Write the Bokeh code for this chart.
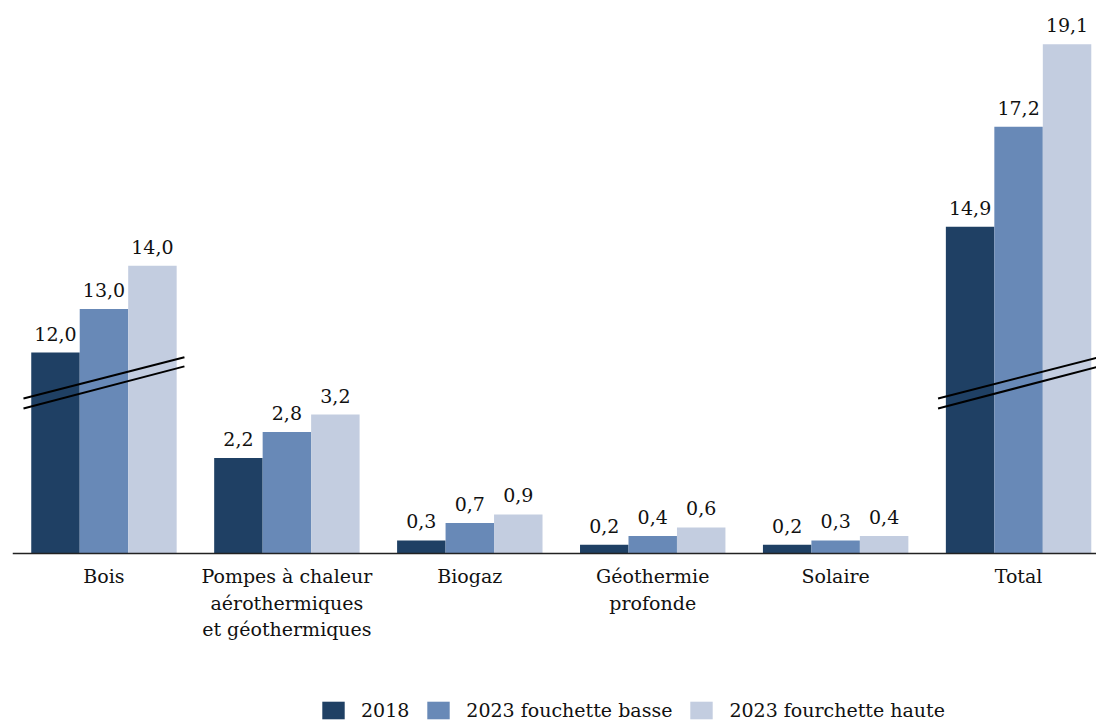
from bokeh.plotting import figure
from bokeh.models import ColumnDataSource, Range1d, Legend, LegendItem, Span
from bokeh.core.properties import value
from bokeh.embed import file_html
from bokeh.resources import INLINE

# ---- data ----
categories = ["Bois", "Pompes à chaleur\naérothermiques\net géothermiques", "Biogaz",
              "Géothermie\nprofonde", "Solaire", "Total"]
series_names = ["2018", "2023 fouchette basse", "2023 fourchette haute"]
v2018 = [12.0, 2.2, 0.3, 0.2, 0.2, 14.9]
v2023_low = [13.0, 2.8, 0.7, 0.4, 0.3, 17.2]
v2023_high = [14.0, 3.2, 0.9, 0.6, 0.4, 19.1]
broken = [True, False, False, False, False, True]   # categories drawn with a broken axis
break_offset = 7.37                                   # amount removed by the axis break

colors = ["#1F4064", "#6889B7", "#C3CDE0"]
FONT = "DejaVu Serif"

p = figure(width=1096, height=721, output_backend="svg", toolbar_location=None,
           x_range=Range1d(-0.5, 5.426), y_range=Range1d(-3.871, 12.74),
           min_border_left=12, min_border_right=0, min_border_top=0, min_border_bottom=0)
p.outline_line_color = None
p.grid.visible = False
p.xaxis.visible = False
p.yaxis.visible = False
p.background_fill_color = "white"

bar_w = 0.265
offsets = [-bar_w, 0.0, bar_w]
renderers = []
for s, (vals, col, off) in enumerate(zip([v2018, v2023_low, v2023_high], colors, offsets)):
    xs = [i + off for i in range(len(categories))]
    tops = [v - break_offset if b else v for v, b in zip(vals, broken)]
    labels = [f"{v:.1f}".replace(".", ",") for v in vals]
    src = ColumnDataSource(dict(x=xs, top=tops, lab=labels))
    r = p.vbar(x="x", top="top", width=bar_w, bottom=0, source=src,
               fill_color=col, line_color=None)
    renderers.append(r)
    p.text(x="x", y="top", text="lab", source=src, text_align="center",
           text_baseline="bottom", y_offset=-12,
           text_font=value(FONT), text_font_size="19px", text_color="#111111")

# break marks (two parallel diagonal lines) on broken categories
bx, by = [], []
for i, b in enumerate(broken):
    if b:
        bx += [[i - 0.44, i + 0.44], [i - 0.44, i + 0.44]]
        by += [[3.57, 4.52], [3.34, 4.31]]
p.multi_line(xs=bx, ys=by, line_color="#000000", line_width=2)

# baseline (category axis)
p.add_layout(Span(location=0, dimension="width", line_color="#222222", line_width=1.5))

# category labels
cat_src = ColumnDataSource(dict(x=list(range(len(categories))), y=[0] * len(categories),
                                lab=categories))
p.text(x="x", y="y", text="lab", source=cat_src, text_align="center", text_baseline="top",
       y_offset=12, text_font=value(FONT), text_font_size="19px", text_color="#111111",
       text_line_height=1.19)

legend = Legend(items=[LegendItem(label=n, renderers=[r]) for n, r in zip(series_names, renderers)],
                orientation="horizontal", location=(307, 0),
                glyph_width=28, glyph_height=22, label_height=22, label_standoff=14,
                spacing=15, padding=0, margin=0, border_line_color=None,
                background_fill_alpha=0,
                label_text_font=FONT, label_text_font_size="19px", label_text_color="#111111")
p.add_layout(legend)

open("out.html", "w").write(file_html(p, INLINE))
